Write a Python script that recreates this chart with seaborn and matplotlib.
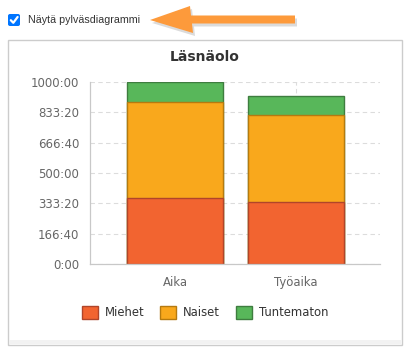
import matplotlib
matplotlib.use("Agg")
import matplotlib.pyplot as plt
import matplotlib.patches as mpatches
from matplotlib.ticker import FuncFormatter
import pandas as pd
import seaborn as sns

W, H = 411, 357

# --------- data (minutes, shown as h:mm) --------- #
categories = ["Aika", "Työaika"]
miehet = [21800, 20300]
naiset = [31550, 28700]
tuntematon = [6650, 6400]
series_names = ["Miehet", "Naiset", "Tuntematon"]
colors = ["#f26430", "#f9a81c", "#58b75a"]
edges = ["#b0452a", "#b57a10", "#3e7d3f"]
y_ticks = list(range(0, 60001, 10000))


def px(x, y):
    # pixel (top-left origin) -> figure fraction
    return x / W, 1 - y / H


sns.set_style("white")
plt.rcParams["font.family"] = ["DejaVu Sans"]

fig = plt.figure(figsize=(W / 100, H / 100), dpi=100)
fig.patch.set_facecolor("white")

# --------- panel frame --------- #
x0, y0 = px(8, 345)
x1, y1 = px(402, 40)
fig.add_artist(mpatches.Rectangle((x0, y0), x1 - x0, y1 - y0, transform=fig.transFigure,
                                  facecolor="white", edgecolor="#cccccc", lw=1.0, zorder=0))
sx0, sy0 = px(8.7, 344.3)
sx1, sy1 = px(401.3, 340)
fig.add_artist(mpatches.Rectangle((sx0, sy0), sx1 - sx0, sy1 - sy0, transform=fig.transFigure,
                                  facecolor="#f2f2f2", edgecolor="none", zorder=0.5))

# --------- checkbox + label + arrow --------- #
cx, cy = px(8, 26)
fig.add_artist(mpatches.FancyBboxPatch((cx, cy), 12 / W, 12 / H, boxstyle="round,pad=0,rounding_size=0.005",
                                       transform=fig.transFigure, facecolor="#0075ff", edgecolor="none"))
chk = [px(10.8, 20.2), px(13.3, 22.8), px(17.6, 17.0)]
fig.add_artist(plt.Line2D([p[0] for p in chk], [p[1] for p in chk], transform=fig.transFigure,
                          color="white", lw=1.6, solid_capstyle="round", solid_joinstyle="round"))
tx, ty = px(28, 20)
fig.text(tx, ty, "Näytä pylväsdiagrammi", ha="left", va="center", fontsize=7.7, color="#333333",
         family=["Liberation Sans", "DejaVu Sans"])

arrow_pts = [(150, 20), (190, 6), (191, 15.5), (295, 15.5), (295, 23.5), (192, 23.5), (193, 33)]
shadow = [px(x + 2, y + 3) for x, y in arrow_pts]
fig.add_artist(mpatches.Polygon(shadow, closed=True, transform=fig.transFigure,
                                facecolor="#999999", edgecolor="none", alpha=0.35))
fig.add_artist(mpatches.Polygon([px(x, y) for x, y in arrow_pts], closed=True, transform=fig.transFigure,
                                facecolor="#fd9a3b", edgecolor="none"))

# --------- title --------- #
fig.text(*px(205, 57), "Läsnäolo", ha="center", va="center", fontsize=10, fontweight="bold", color="#333333")

# --------- stacked bars --------- #
ax = fig.add_axes([90 / W, 1 - 264 / H, 290 / W, 182 / H])

df = pd.DataFrame({"kategoria": categories, "Miehet": miehet, "Naiset": naiset, "Tuntematon": tuntematon})
df["c1"] = df["Miehet"]
df["c2"] = df["c1"] + df["Naiset"]
df["c3"] = df["c2"] + df["Tuntematon"]

for col, color, edge in zip(["c3", "c2", "c1"], colors[::-1], edges[::-1]):
    sns.barplot(data=df, x="kategoria", y=col, color=color, edgecolor=edge, linewidth=1.0,
                saturation=1, width=0.8, ax=ax, errorbar=None)

ax.set_xlim(-0.702, 1.694)
ax.set_ylim(0, 60000)
ax.set_yticks(y_ticks)
ax.yaxis.set_major_formatter(FuncFormatter(lambda v, _: f"{int(v) // 60}:{int(v) % 60:02d}"))
ax.set_xlabel("")
ax.set_ylabel("")
ax.set_axisbelow(True)
ax.grid(True, axis="both", linestyle=(0, (4, 3)), color="#dcdcdc", linewidth=0.8)

for s in ["top", "right"]:
    ax.spines[s].set_visible(False)
for s in ["left", "bottom"]:
    ax.spines[s].set_color("#c8c8c8")
    ax.spines[s].set_linewidth(0.9)

ax.tick_params(axis="y", length=3.6, width=0.8, color="#c8c8c8", pad=4, labelsize=8.5, labelcolor="#666666")
ax.tick_params(axis="x", length=3.6, width=0.8, color="#c8c8c8", pad=5, labelsize=8.4, labelcolor="#666666")

# --------- legend --------- #
handles = [mpatches.Patch(facecolor=c, edgecolor=e, lw=1.0, label=n) for n, c, e in zip(series_names, colors, edges)]
fig.legend(handles=handles, loc="center", bbox_to_anchor=px(205, 312.5), ncol=3, frameon=False,
           fontsize=8.4, labelcolor="#333333", handlelength=1.38, handleheight=1.38,
           handletextpad=0.6, columnspacing=1.35, borderaxespad=0)

fig.savefig("out.png", dpi=100, facecolor="white")
